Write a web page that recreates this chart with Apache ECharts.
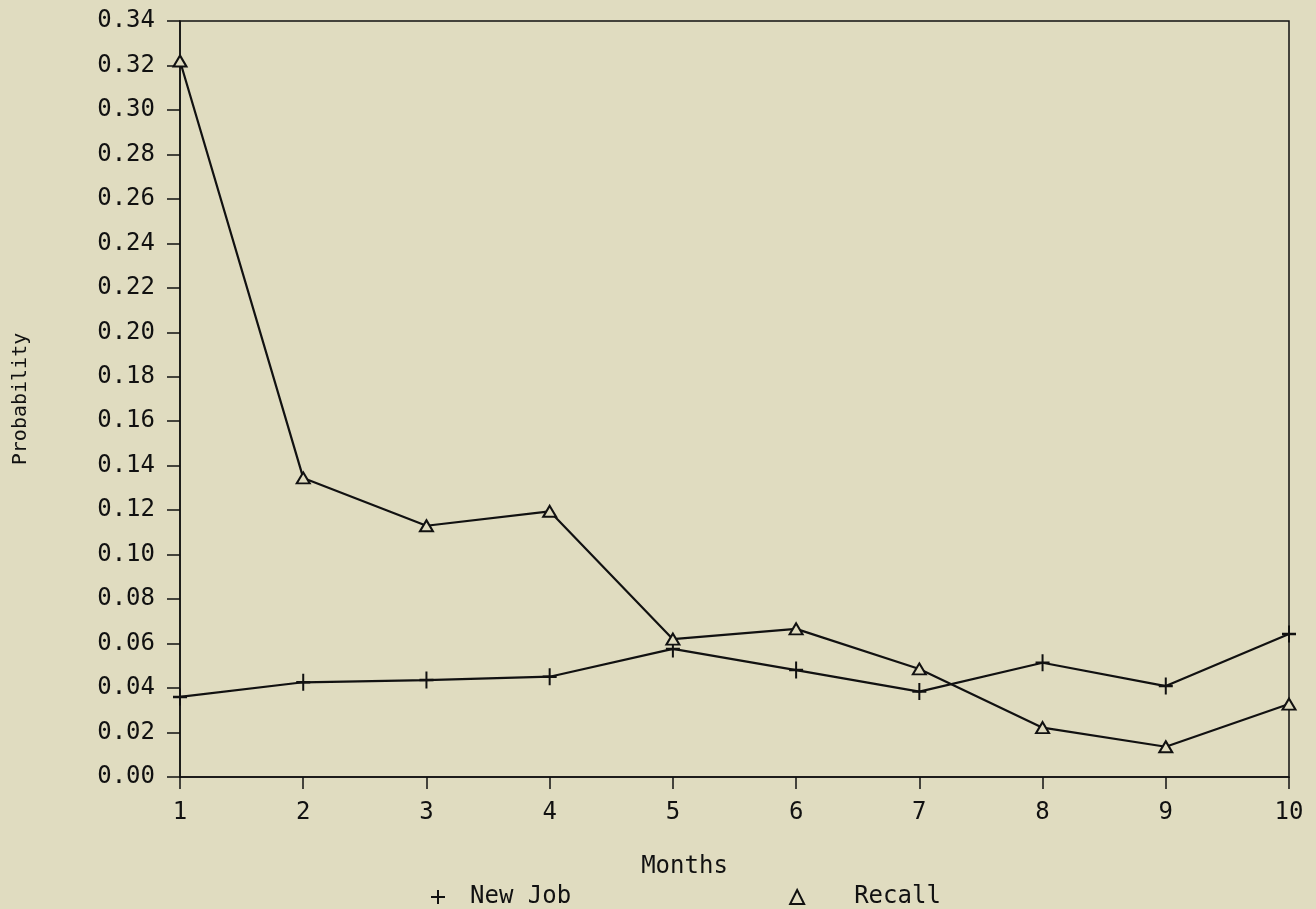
<!DOCTYPE html>
<html>
<head>
    <meta charset="utf-8">
    <title>Probability by month</title>
    <script src="https://cdn.jsdelivr.net/npm/echarts@6/dist/echarts.min.js"></script>
    <style>
        html, body { margin: 0; padding: 0; background: #e0dcc0; }
        #main { width: 1316px; height: 909px; }
    </style>
</head>
<body>
<div id="main"></div>
<script type="text/javascript">
    // values
    var months = [1, 2, 3, 4, 5, 6, 7, 8, 9, 10];
    var newJob = [0.036, 0.0426, 0.0436, 0.0451, 0.0576, 0.0481, 0.0384, 0.0514, 0.0409, 0.0643];
    var recall = [0.322, 0.1345, 0.113, 0.1195, 0.062, 0.0666, 0.0486, 0.0222, 0.0136, 0.0328];

    var plusIcon = 'path://M6,0H8V6H14V8H8V14H6V8H0V6H6Z';
    var font = '"DejaVu Sans Mono", monospace';

    function pairs(vals) {
        var out = [];
        for (var i = 0; i < months.length; i++) {
            out.push([months[i], vals[i]]);
        }
        return out;
    }

    var chart = echarts.init(document.getElementById('main'));

    var option = {
        backgroundColor: '#e0dcc0',
        animation: false,
        textStyle: {fontFamily: font, color: '#111'},
        grid: {
            left: 180, right: 27, top: 21, bottom: 132,
            outerBoundsMode: 'none',
            containLabel: false,
            show: true,
            borderColor: '#111',
            borderWidth: 1.5
        },
        legend: {
            left: 426,
            top: 880,
            itemGap: 218,
            itemWidth: 14,
            itemHeight: 14,
            textStyle: {fontFamily: font, fontSize: 24, color: '#111'},
            data: [
                {name: 'New Job', icon: plusIcon, textStyle: {padding: [0, 0, 0, 20]}},
                {name: 'Recall', icon: 'triangle', textStyle: {padding: [0, 0, 0, 45]}}
            ]
        },
        xAxis: {
            type: 'value',
            min: 1,
            max: 10,
            interval: 1,
            name: 'Months',
            nameLocation: 'middle',
            nameGap: 78,
            nameTextStyle: {fontFamily: font, fontSize: 24, color: '#111', padding: [0, 100, 0, 0]},
            axisLine: {lineStyle: {color: '#111', width: 1.5}},
            axisTick: {length: 12, lineStyle: {color: '#111', width: 1.5}},
            axisLabel: {margin: 24, fontFamily: font, fontSize: 24, color: '#111'},
            splitLine: {show: false}
        },
        yAxis: {
            type: 'value',
            min: 0,
            max: 0.34,
            interval: 0.02,
            name: 'Probability',
            nameLocation: 'middle',
            nameGap: 149,
            nameTextStyle: {fontFamily: font, fontSize: 20, color: '#111'},
            axisLine: {show: true, lineStyle: {color: '#111', width: 1.5}},
            axisTick: {show: true, length: 13, lineStyle: {color: '#111', width: 1.5}},
            axisLabel: {
                margin: 25,
                fontFamily: font,
                fontSize: 24,
                color: '#111',
                formatter: function (v) { return v.toFixed(2); }
            },
            splitLine: {show: false}
        },
        series: [
            {
                name: 'New Job',
                type: 'line',
                data: pairs(newJob),
                symbol: plusIcon,
                symbolSize: [14, 17],
                itemStyle: {color: '#111'},
                lineStyle: {color: '#111', width: 2.2}
            },
            {
                name: 'Recall',
                type: 'line',
                data: pairs(recall),
                symbol: 'triangle',
                symbolSize: [13, 11],
                itemStyle: {color: '#e0dcc0', borderColor: '#111', borderWidth: 2},
                lineStyle: {color: '#111', width: 2.2}
            }
        ]
    };

    chart.setOption(option);
</script>
</body>
</html>
